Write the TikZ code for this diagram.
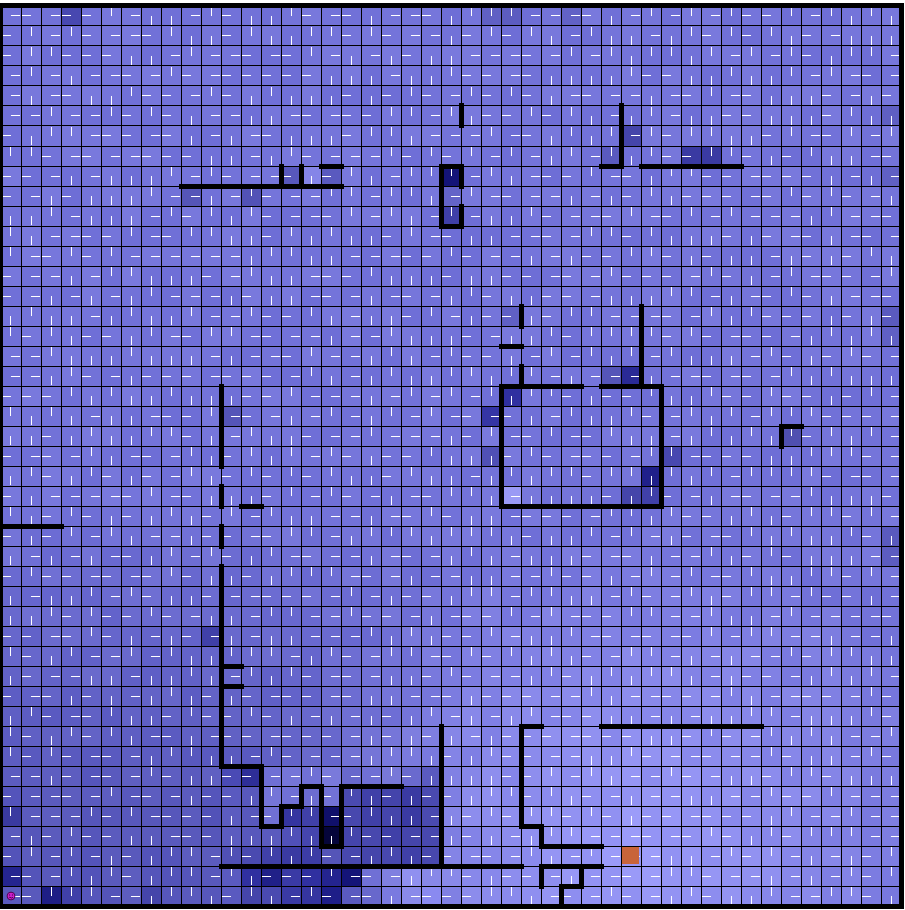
\documentclass[tikz,border=0pt]{standalone}
\usepackage{tikz}
\begin{document}
\begin{tikzpicture}[x=1cm,y=1cm,
  wall/.style={line width=0.25cm,black,line cap=rect},
  gridline/.style={line width=0.05cm,black},
  pmark/.style={line width=0.05cm,white}]
\useasboundingbox (-0.05,0.3) rectangle (45.15,-45.2);
\pgfmathsetseed{4242}
% cell colours (smooth field + noise)
\foreach \r in {0,...,44}{
  \foreach \c in {0,...,44}{
    \pgfmathsetmacro{\D}{max(0,min(1,(\r-24)/16))*max(0,min(1,(23-\c)/12))}
    \pgfmathsetmacro{\L}{max(0,1-sqrt((\c-31)*(\c-31)+(\r-42)*(\r-42))/17)}
    \pgfmathsetmacro{\n}{rnd*12-6}
    \pgfmathtruncatemacro{\R}{116-28*\D+40*\L+\n}
    \pgfmathtruncatemacro{\B}{min(255,218-30*\D+32*\L+0.6*\n)}
    \definecolor{cc}{RGB}{\R,\R,\B}
    \fill[cc] (\c,-\r) rectangle ++(1,-1);
  }
}
% specific cells
\foreach \c/\r/\h in {3/0/4848B0,24/0/6060C4,25/0/5C5CC0,28/0/6262C6,14/8/5858BC,16/8/5A5ABF,15/8/8585E8,
  9/9/5555B8,12/9/5252B6,22/8/141478,22/9/6464C8,22/10/4040A8,31/6/4545AA,30/7/5A5ABF,34/7/3A3AA2,35/7/3A3AA2,
  44/5/5F5FC2,44/8/6060C4,44/15/5A5ABE,44/16/6060C4,44/26/5A5ABE,44/27/5C5CC0,25/19/3030A0,24/20/3535A5,
  31/18/2A2A95,30/18/5555B8,32/23/20208A,32/24/4040A8,31/24/4545AA,25/24/9A9AF5,24/22/5050B5,33/22/4848B0,
  25/15/6060C5,39/21/5050B0,11/20/5555B8,10/31/4040A8,
  11/38/4A4AB5,12/38/2E2E98,13/38/7070D5,14/38/7575D8,15/38/7070D5,16/38/7A7ADB,17/38/6868CC,18/38/7070D5,19/38/7878D8,20/38/6A6ACE,21/38/5A5AC0,
  11/39/5A5AC0,12/39/5858BC,13/39/7575D8,14/39/7070D5,15/39/6C6CD0,16/39/7272D6,17/39/4A4AB0,18/39/4040A8,19/39/4444AB,20/39/3A3AA2,21/39/4A4AB0,
  11/40/5C5CC0,12/40/5858BC,13/40/7070D4,14/40/3535A0,15/40/4040A8,16/40/10106A,17/40/4848AE,18/40/4040A8,19/40/4545AB,20/40/3A3AA2,21/40/4A4AB0,
  11/41/5C5CC0,12/41/5858BC,13/41/5A5ABE,14/41/5050B8,15/41/4545AD,16/41/05053A,17/41/4545AB,18/41/4848AE,19/41/4040A8,20/41/4545AB,21/41/4848AE,
  11/42/5050B5,12/42/4A4AB0,13/42/4040A8,14/42/3A3AA2,15/42/3C3CA5,16/42/5555B8,17/42/4848AE,18/42/4545AB,19/42/4848AE,20/42/4040A8,21/42/4848AE,
  11/43/5A5AC0,12/43/3030A0,13/43/202088,14/43/3A3AA5,15/43/3030A0,16/43/24248F,17/43/141478,18/43/7070D5,19/43/8080E0,20/43/9090F0,21/43/8888E8,
  11/44/5A5AC0,12/44/4545AA,13/44/4A4AB0,14/44/3A3AA5,15/44/3535A0,16/44/1E1E88,17/44/5A5AC0,18/44/6868CC,19/44/7A7AE0,20/44/8A8AEA,21/44/8A8AF0,
  0/40/3A3AA0,0/43/252590,2/44/1E1E85,3/44/4040A8,7/44/4545AA}{
  \definecolor{cc}{HTML}{\h}
  \fill[cc] (\c,-\r) rectangle ++(1,-1);
}
% grid
\draw[gridline] (0,0) grid (45,-45);
% policy marks
\foreach \r in {0,...,44}{
  \foreach \c in {0,...,44}{
    \pgfmathtruncatemacro{\d}{int(rnd*4)}
    \ifcase\d \draw[pmark] (\c+0.5,-\r-0.5) -- ++(0,0.47);
    \or \draw[pmark] (\c+0.5,-\r-0.5) -- ++(0,-0.47);
    \or \draw[pmark] (\c+0.5,-\r-0.5) -- ++(0.47,0);
    \or \draw[pmark] (\c+0.5,-\r-0.5) -- ++(-0.47,0);
    \fi
  }
}
% goal
\definecolor{goalc}{HTML}{C8643A}
\fill[goalc] (31.03,-42.03) rectangle (31.92,-42.92);
% agent
\definecolor{agentc}{HTML}{D020D0}
\definecolor{agentd}{HTML}{500050}
\coordinate (agent) at (0.5,-44.5);
\fill[agentc] (agent) circle (0.2);
\draw[agentd,line width=0.04cm] (agent) circle (0.2);
\fill[agentd] ([shift={(-0.07,0.05)}]agent) circle (0.035);
\fill[agentd] ([shift={(0.07,0.05)}]agent) circle (0.035);
\draw[agentd,line width=0.035cm] ([shift={(-0.09,-0.05)}]agent) arc[start angle=200,end angle=340,radius=0.095];
% walls
\foreach \a/\b/\p/\q in {9/9/17/9,16/8/17/8,22/8/23/8,22/11/23/11,30/8/31/8,32/8/37/8,0/26/3/26,12/25/13/25,
  11/33/12/33,11/34/12/34,11/38/13/38,13/41/14/41,14/40/15/40,15/39/16/39,16/42/17/42,17/39/20/39,
  11/43/26/43,27/43/30/43,26/36/27/36,30/36/38/36,26/41/27/41,27/42/30/42,28/44/29/44,25/17/26/17,
  25/19/29/19,30/19/33/19,25/25/33/25,39/21/40/21,
  14/8/14/9,15/8/15/9,23/5/23/6,22/8/22/11,23/8/23/9,23/10/23/11,31/5/31/8,11/19/11/23,11/24/11/25,
  11/26/11/27,11/28/11/38,13/38/13/41,14/40/14/41,15/39/15/40,16/39/16/42,17/39/17/42,22/36/22/43,
  26/36/26/41,27/41/27/42,27/43/27/44,28/44/28/45,29/43/29/44,26/15/26/16,26/18/26/19,32/15/32/19,
  25/19/25/25,33/19/33/25,39/21/39/22}{
  \draw[wall] (\a,-\b) -- (\p,-\q);
}
\draw[line width=0.25cm,black] (0,0) rectangle (45,-45);
\end{tikzpicture}
\end{document}
